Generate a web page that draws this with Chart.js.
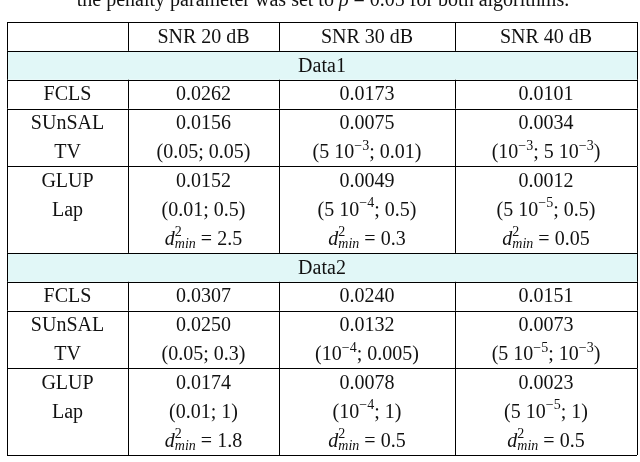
<!DOCTYPE html>
<html><head><meta charset="utf-8">
<script src="https://cdn.jsdelivr.net/npm/chart.js@4"></script>
<style>html,body{margin:0;background:#fff}#w{width:640px;height:462px}</style>
</head><body><div id="w"><canvas id="c"></canvas></div>
<script>
const caption = "the penalty parameter was set to *ρ* = 0.05 for both algorithms.";
const columns = ["", "SNR 20 dB", "SNR 30 dB", "SNR 40 dB"];
const datasetsNames = ["Data1", "Data2"];
const fclsErr = [["0.0262","0.0173","0.0101"],["0.0307","0.0240","0.0151"]];
const sunsalErr = [["0.0156","0.0075","0.0034"],["0.0250","0.0132","0.0073"]];
const sunsalParams = [["(0.05; 0.05)","(5 10^{−3}; 0.01)","(10^{−3}; 5 10^{−3})"],
                      ["(0.05; 0.3)","(10^{−4}; 0.005)","(5 10^{−5}; 10^{−3})"]];
const glupErr = [["0.0152","0.0049","0.0012"],["0.0174","0.0078","0.0023"]];
const glupParams = [["(0.01; 0.5)","(5 10^{−4}; 0.5)","(5 10^{−5}; 0.5)"],
                    ["(0.01; 1)","(10^{−4}; 1)","(5 10^{−5}; 1)"]];
const dmin = [["2.5","0.3","0.05"],["1.8","0.5","0.5"]];

const lines = [], groups = [];
function add(cells, kind){ lines.push({cells, kind}); }
add(columns, "hdr"); groups.push([0,0]);
for (let d=0; d<2; d++){
  let s = lines.length; add([datasetsNames[d]], "sec"); groups.push([s,s]);
  s = lines.length; add(["FCLS", ...fclsErr[d]], "row"); groups.push([s,s]);
  s = lines.length; add(["SUnSAL", ...sunsalErr[d]], "row"); add(["TV", ...sunsalParams[d]], "row"); groups.push([s,s+1]);
  s = lines.length; add(["GLUP", ...glupErr[d]], "row"); add(["Lap", ...glupParams[d]], "row");
  add(["", ...dmin[d].map(v => "*d*^{2}_{*min*} = " + v)], "row"); groups.push([s,s+2]);
}
const lineKeys = lines.map((l,i) => "L"+i);
const colWeights = [121,151,176,182];
const FS = 20, FONT = "Liberation Serif";

function parse(str){
  const out=[]; let i=0, mode='n', it=false, buf='';
  const push=()=>{ if(buf){out.push({t:buf,mode,it}); buf='';} };
  while(i<str.length){
    const ch=str[i];
    if(ch==='*'){push(); it=!it; i++; continue;}
    if((ch==='^'||ch==='_') && str[i+1]==='{'){push(); mode=ch==='^'?'s':'b'; i+=2; continue;}
    if(ch==='}' && mode!=='n'){push(); mode='n'; i++; continue;}
    buf+=ch; i++;
  }
  push(); return out;
}
function font(seg){ const sz = seg.mode==='n'?FS:Math.round(FS*0.7); return (seg.it?'italic ':'')+sz+'px "'+FONT+'"'; }
function layout(ctx, segs){
  let x=0, lastSupStart=null; const pos=[];
  segs.forEach((s,k)=>{
    ctx.font=font(s); const w=ctx.measureText(s.t).width;
    if(s.mode==='b' && k>0 && segs[k-1].mode==='s'){ pos.push(lastSupStart); x=Math.max(x,lastSupStart+w); }
    else { if(s.mode==='s'){lastSupStart=x;} pos.push(x); x+=w; }
  });
  return {pos, w:x};
}
function drawRich(ctx, str, cx, cy){
  const segs=parse(str); const L=layout(ctx,segs); const x0=cx-L.w/2;
  segs.forEach((s,k)=>{
    ctx.font=font(s);
    const dy = s.mode==='s' ? -7 : s.mode==='b' ? 5 : 0;
    ctx.fillText(s.t, x0+L.pos[k], cy+dy);
  });
}

const tablePlugin = {
  id:'table',
  afterDraw(chart){
    const ctx=chart.ctx, ys=chart.scales.y, a=chart.chartArea;
    const tot=colWeights.reduce((p,q)=>p+q,0);
    const xb=[a.left]; colWeights.forEach(w=>xb.push(xb[xb.length-1]+w/tot*(a.right-a.left)));
    const edge=i=>(ys.getPixelForValue(i)+ys.getPixelForValue(i-1))/2;
    const top=i=> i===0 ? a.top : edge(i);
    const bot=i=> i===lines.length-1 ? a.bottom : edge(i+1);
    ctx.save();
    lines.forEach((l,i)=>{ if(l.kind==='sec'){ ctx.fillStyle='#e1f7f7'; ctx.fillRect(a.left,top(i),a.right-a.left,bot(i)-top(i)); }});
    ctx.strokeStyle='#000'; ctx.lineWidth=1;
    const hl=(y,x1,x2)=>{ctx.beginPath();ctx.moveTo(x1,Math.round(y)+0.5);ctx.lineTo(x2,Math.round(y)+0.5);ctx.stroke();};
    const vl=(x,y1,y2)=>{ctx.beginPath();ctx.moveTo(Math.round(x)+0.5,y1);ctx.lineTo(Math.round(x)+0.5,y2);ctx.stroke();};
    groups.forEach(([s,e])=>{
      hl(top(s),a.left,a.right); hl(bot(e),a.left,a.right);
      const sec = lines[s].kind==='sec';
      vl(xb[0],top(s),bot(e)); vl(xb[4],top(s),bot(e));
      if(!sec) for(let c=1;c<4;c++) vl(xb[c],top(s),bot(e));
    });
    ctx.fillStyle='#111'; ctx.textBaseline='middle';
    lines.forEach((l,i)=>{
      const y=ys.getPixelForValue(i)+1;
      if(l.kind==='sec'){ drawRich(ctx,l.cells[0],(a.left+a.right)/2,y); return; }
      l.cells.forEach((t,c)=>{ if(t) drawRich(ctx,t,(xb[c]+xb[c+1])/2,y); });
    });
    drawRich(ctx, caption, 323, 1);
    ctx.restore();
  }
};

new Chart(document.getElementById('c'), {
  type:'scatter',
  data:{datasets:[{data:[]}]},
  options:{
    responsive:true, maintainAspectRatio:false, animation:false,
    layout:{padding:{top:22,bottom:7,left:7,right:3}},
    plugins:{legend:{display:false},tooltip:{enabled:false}},
    scales:{
      x:{type:'linear',min:0,max:1,display:false},
      y:{type:'category',labels:lineKeys,offset:true,display:false}
    }
  },
  plugins:[tablePlugin]
});
</script></body></html>
